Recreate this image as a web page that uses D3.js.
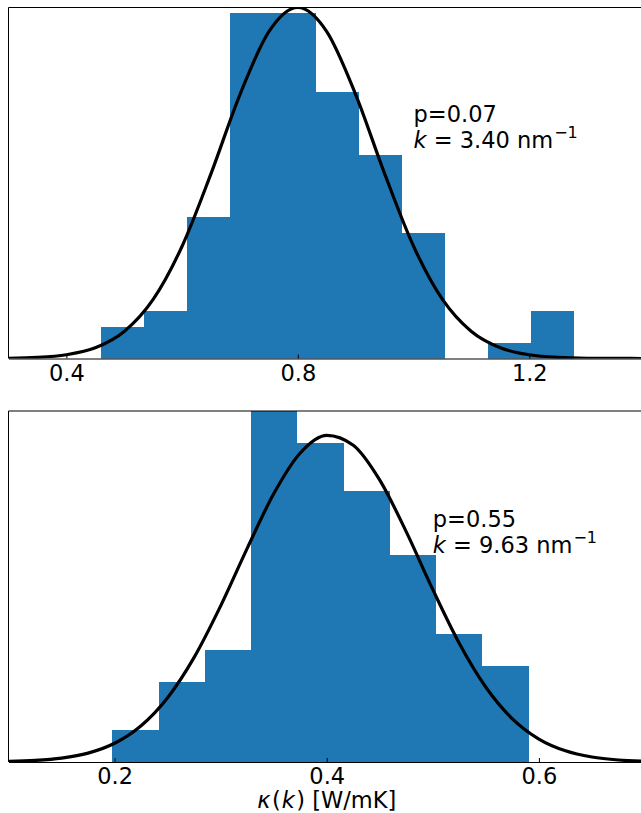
<!DOCTYPE html>
<html>
<head>
<meta charset="utf-8">
<script src="https://cdn.jsdelivr.net/npm/d3@7"></script>
<style>
  html, body { margin: 0; padding: 0; background: #fff; }
  svg text { font-family: "DejaVu Sans", sans-serif; fill: #000; }
</style>
</head>
<body>
<svg id="chart" width="641" height="813"></svg>
<script>
// ---- Upper panel: histogram of 100 samples and fitted normal density ----
const topCounts = [2, 3, 9, 22, 22, 17, 13, 8, 0, 1, 3];
const topBinStart = 0.4593;
const topBinWidth = 0.0743;
const topCurveX = [0.30, 0.35, 0.40, 0.45, 0.50, 0.55, 0.60, 0.65, 0.70, 0.75, 0.80,
                   0.85, 0.90, 0.95, 1.00, 1.05, 1.10, 1.15, 1.20, 1.25, 1.30, 1.35, 1.40];
const topCurveY = [0.002, 0.009, 0.032, 0.092, 0.232, 0.507, 0.963, 1.586, 2.264, 2.804, 3.011,
                   2.804, 2.264, 1.586, 0.963, 0.507, 0.232, 0.092, 0.032, 0.009, 0.002, 0.001, 0.000];
const topTicks = [0.4, 0.8, 1.2];
const topDomain = [0.3, 1.4];
const topNote = ["0.07", "3.40"];

// ---- Lower panel ----
const bottomCounts = [2, 5, 7, 22, 20, 17, 13, 8, 6];
const bottomBinStart = 0.198;
const bottomBinWidth = 0.0436;
const bottomCurveX = [0.100, 0.125, 0.150, 0.175, 0.200, 0.225, 0.250, 0.275, 0.300, 0.325, 0.350, 0.375, 0.400,
                      0.425, 0.450, 0.475, 0.500, 0.525, 0.550, 0.575, 0.600, 0.625, 0.650, 0.675, 0.700];
const bottomCurveY = [0.008, 0.022, 0.056, 0.128, 0.270, 0.522, 0.925, 1.504, 2.244, 3.071, 3.856, 4.442, 4.696,
                      4.554, 4.052, 3.308, 2.478, 1.703, 1.074, 0.621, 0.330, 0.161, 0.072, 0.029, 0.011];
const bottomTicks = [0.2, 0.4, 0.6];
const bottomDomain = [0.1, 0.7];
const bottomNote = ["0.55", "9.63"];

const svg = d3.select("#chart");
const FONT = 22.5;
const BAR = "#1f77b4";

function panel(cfg) {
  const { counts, binStart, binWidth, curveX, curveY, ticks, domain, note, top, bottom, noteX, noteFrac } = cfg;
  const left = 8.5, right = 645;
  const n = d3.sum(counts);
  const bins = counts.map((c, i) => ({
    x0: binStart + i * binWidth,
    x1: binStart + (i + 1) * binWidth,
    d: c / (n * binWidth)
  }));
  const curve = curveX.map((x, i) => ({ x, y: curveY[i] }));
  const ymax = Math.max(d3.max(bins, b => b.d), d3.max(curve, c => c.y));

  const x = d3.scaleLinear().domain(domain).range([left, right]);
  const y = d3.scaleLinear().domain([0, ymax]).range([bottom, top]);

  const g = svg.append("g");
  const clipId = "clip" + Math.round(top);
  g.append("clipPath").attr("id", clipId)
    .append("rect").attr("x", left).attr("y", top).attr("width", right - left).attr("height", bottom - top);

  const plot = g.append("g").attr("clip-path", `url(#${clipId})`);

  plot.selectAll("rect.bar").data(bins.filter(b => b.d > 0)).join("rect")
    .attr("class", "bar")
    .attr("x", b => x(b.x0))
    .attr("width", b => x(b.x1) - x(b.x0))
    .attr("y", b => y(b.d))
    .attr("height", b => y(0) - y(b.d))
    .attr("fill", BAR)
    .attr("shape-rendering", "crispEdges");

  plot.append("path")
    .datum(curve)
    .attr("fill", "none")
    .attr("stroke", "#000")
    .attr("stroke-width", 3.2)
    .attr("stroke-linejoin", "round")
    .attr("d", d3.line().x(d => x(d.x)).y(d => y(d.y)).curve(d3.curveMonotoneX));

  // frame: left, top and bottom spines (right edge lies outside the view)
  g.append("line").attr("x1", left).attr("x2", left).attr("y1", top).attr("y2", bottom)
    .attr("stroke", "#000").attr("stroke-width", 1);
  g.append("line").attr("x1", left).attr("x2", right).attr("y1", top).attr("y2", top)
    .attr("stroke", "#000").attr("stroke-width", 1);

  const axis = d3.axisBottom(x).tickValues(ticks).tickSizeInner(-4).tickSizeOuter(0)
    .tickPadding(8).tickFormat(d3.format(".1f"));
  const ax = g.append("g").attr("transform", `translate(0,${bottom})`).call(axis);
  ax.select(".domain").attr("stroke", "#000").attr("stroke-width", 1);
  ax.selectAll(".tick line").attr("stroke", "#000").attr("stroke-width", 1);
  ax.selectAll(".tick text")
    .attr("font-family", '"DejaVu Sans", sans-serif')
    .attr("font-size", FONT)
    .attr("fill", "#000")
    .attr("dy", null)
    .attr("y", 22);

  // annotation: p-value and wavenumber
  const tx = x(noteX);
  const ty = top + (bottom - top) * noteFrac;
  g.append("text").attr("x", tx).attr("y", ty).attr("font-size", FONT).text("p=" + note[0]);
  const t2 = g.append("text").attr("x", tx).attr("y", ty + 26).attr("font-size", FONT);
  t2.append("tspan").attr("font-style", "italic").text("k");
  t2.append("tspan").text(" = " + note[1] + " nm");
  t2.append("tspan").attr("font-size", 16).attr("dy", -10).attr("dx", 1).text("\u22121");

  return { x, y };
}

panel({
  counts: topCounts, binStart: topBinStart, binWidth: topBinWidth,
  curveX: topCurveX, curveY: topCurveY, ticks: topTicks, domain: topDomain,
  note: topNote, top: 7.5, bottom: 358.5, noteX: 1.0, noteFrac: 0.325
});

panel({
  counts: bottomCounts, binStart: bottomBinStart, binWidth: bottomBinWidth,
  curveX: bottomCurveX, curveY: bottomCurveY, ticks: bottomTicks, domain: bottomDomain,
  note: bottomNote, top: 411, bottom: 762, noteX: 0.5, noteFrac: 0.33
});

// x-axis title of the lower panel
const xl = svg.append("text").attr("x", (8.5 + 645) / 2).attr("y", 808)
  .attr("text-anchor", "middle").attr("font-size", FONT);
xl.append("tspan").attr("font-style", "italic").text("\u03ba");
xl.append("tspan").attr("dx", 1.5).text("(");
xl.append("tspan").attr("dx", 1).attr("font-style", "italic").text("k");
xl.append("tspan").attr("dx", 1.5).text(") [W/mK]");
</script>
</body>
</html>
